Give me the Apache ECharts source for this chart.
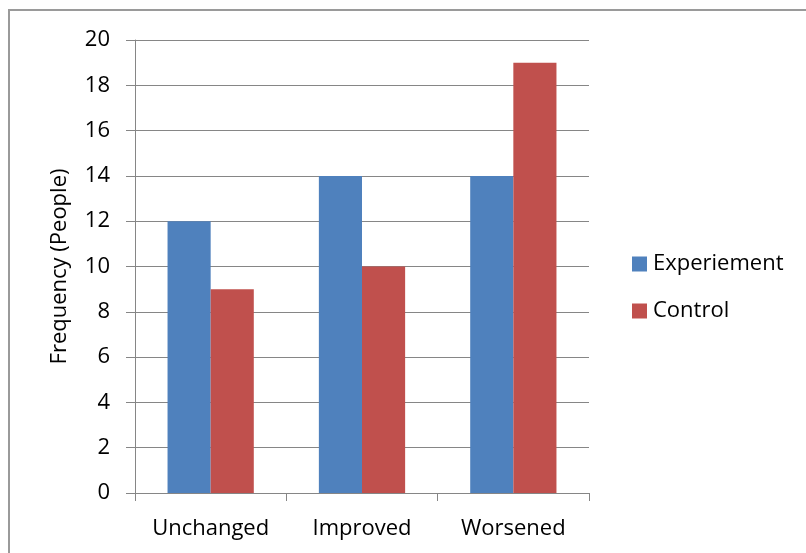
<!DOCTYPE html>
<html>
<head>
<meta charset="utf-8">
<script src="https://cdn.jsdelivr.net/npm/echarts@6/dist/echarts.min.js"></script>
<style>
  html, body { margin: 0; padding: 0; background: #fff; }
  #chart { width: 806px; height: 553px; }
</style>
</head>
<body>
<div id="chart"></div>
<script>
// Outcome categories and head counts per group
const categories = ['Unchanged', 'Improved', 'Worsened'];
const experimentValues = [12, 14, 14];
const controlValues = [9, 10, 19];
const seriesNames = ['Experiement', 'Control'];

const FONT = '"Open Sans", Lato, sans-serif';
const AXIS_GRAY = '#868686';

const chart = echarts.init(document.getElementById('chart'), null, { renderer: 'canvas' });

chart.setOption({
  backgroundColor: '#ffffff',
  animation: false,
  textStyle: { fontFamily: FONT },
  graphic: [{
    type: 'rect',
    shape: { x: 9, y: 10, width: 840, height: 600 },
    style: { fill: 'none', stroke: '#9a9a9a', lineWidth: 2 },
    silent: true
  }],
  grid: { left: 135, top: 40, right: 217, bottom: 60, containLabel: false },
  legend: {
    orient: 'vertical',
    left: 627,
    top: 248,
    icon: 'rect',
    itemWidth: 15,
    itemHeight: 15,
    itemGap: 25,
    itemStyle: { borderWidth: 0 },
    textStyle: { fontFamily: FONT, fontSize: 22, color: '#000', padding: [0, 0, 0, 1] },
    data: seriesNames
  },
  xAxis: {
    type: 'category',
    data: categories,
    axisLine: { lineStyle: { color: AXIS_GRAY, width: 1 } },
    axisTick: { show: true, length: 8, lineStyle: { color: AXIS_GRAY } },
    axisLabel: { color: '#000', fontSize: 22, fontFamily: FONT, margin: 25, interval: 0 },
    splitLine: { show: false }
  },
  yAxis: {
    type: 'value',
    min: 0,
    max: 20,
    interval: 2,
    name: 'Frequency (People)',
    nameLocation: 'middle',
    nameGap: 64,
    nameTextStyle: { color: '#000', fontSize: 22, fontFamily: FONT },
    axisLine: { show: true, lineStyle: { color: AXIS_GRAY, width: 1 } },
    axisTick: { show: true, length: 9, lineStyle: { color: AXIS_GRAY } },
    axisLabel: { color: '#000', fontSize: 22, fontFamily: FONT, margin: 25 },
    splitLine: { show: true, lineStyle: { color: AXIS_GRAY, width: 1 } }
  },
  series: [
    {
      name: seriesNames[0],
      type: 'bar',
      data: experimentValues,
      barGap: '0%',
      barCategoryGap: '43%',
      itemStyle: { color: '#4F81BD' }
    },
    {
      name: seriesNames[1],
      type: 'bar',
      data: controlValues,
      barGap: '0%',
      barCategoryGap: '43%',
      itemStyle: { color: '#C0504D' }
    }
  ]
});
</script>
</body>
</html>
